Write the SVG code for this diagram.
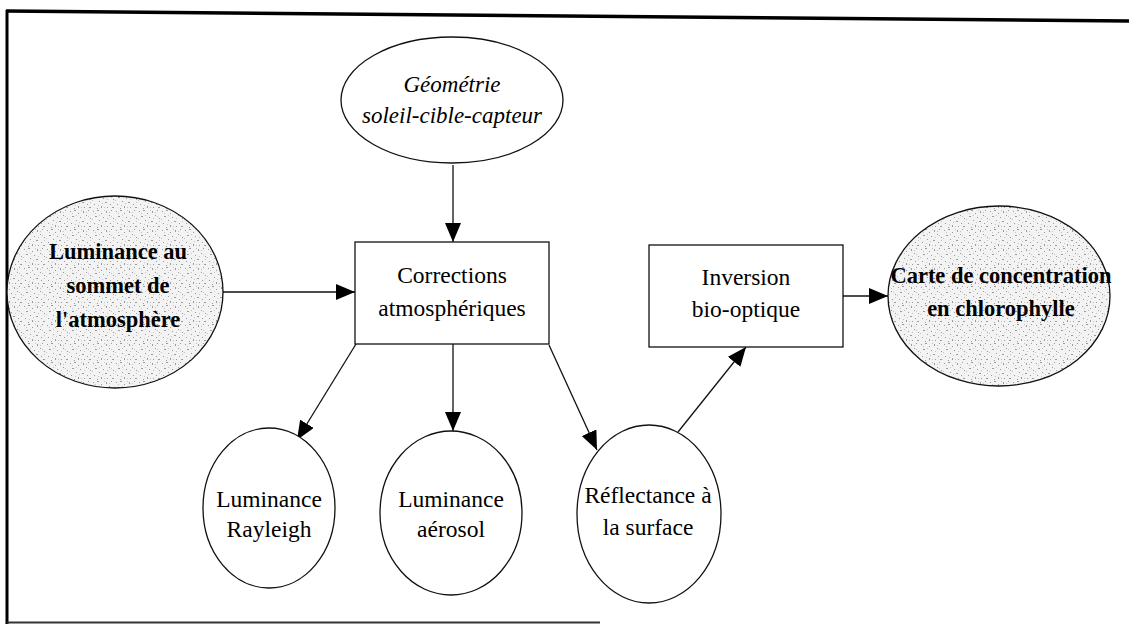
<svg xmlns="http://www.w3.org/2000/svg" width="1129" height="626" viewBox="0 0 1129 626">
<style>
.n{fill:#fff;stroke:#111;stroke-width:1.3}
.s{fill:url(#stip);stroke:#111;stroke-width:1.3}
.t{font-family:"Liberation Serif","Times New Roman",serif;font-size:23.5px;fill:#000;text-anchor:middle}
.b{font-weight:bold;font-size:22.5px}
.i{font-style:italic;font-size:23px}
.c{stroke:#111;stroke-width:1.3;fill:none;marker-end:url(#ah)}
</style>
<defs>
<marker id="ah" markerUnits="userSpaceOnUse" markerWidth="19" markerHeight="16" refX="19" refY="8" orient="auto">
<path d="M0,0 L19,8 L0,16 Z" fill="#000"/>
</marker>
<pattern id="stip" width="23" height="19" patternUnits="userSpaceOnUse">
<rect width="23" height="19" fill="#f3f3f3"/>
<g fill="#9a9a9a">
<rect x="1" y="2" width="1" height="1"/><rect x="5" y="1" width="2" height="1"/><rect x="9" y="4" width="1" height="1"/>
<rect x="14" y="2" width="1" height="2"/><rect x="19" y="1" width="1" height="1"/><rect x="3" y="7" width="2" height="1"/>
<rect x="11" y="8" width="1" height="1"/><rect x="17" y="6" width="1" height="1"/><rect x="21" y="9" width="1" height="1"/>
<rect x="7" y="11" width="1" height="1"/><rect x="13" y="12" width="2" height="1"/><rect x="2" y="14" width="1" height="1"/>
<rect x="18" y="14" width="1" height="1"/><rect x="9" y="16" width="1" height="2"/><rect x="15" y="17" width="1" height="1"/>
<rect x="5" y="18" width="1" height="1"/><rect x="20" y="17" width="2" height="1"/>
</g>
<g fill="#c4c4c4">
<rect x="3" y="4" width="1" height="1"/><rect x="12" y="1" width="1" height="1"/><rect x="7" y="6" width="1" height="1"/>
<rect x="15" y="9" width="1" height="1"/><rect x="0" y="10" width="1" height="1"/><rect x="10" y="13" width="1" height="1"/>
<rect x="21" y="12" width="1" height="1"/><rect x="6" y="15" width="1" height="1"/><rect x="17" y="3" width="1" height="1"/>
<rect x="12" y="17" width="1" height="1"/><rect x="19" y="7" width="1" height="1"/>
</g>
</pattern>
</defs>

<g id="frame" fill="none" stroke="#000">
<path d="M6,11 L1129,21" stroke-width="3.5"/>
<path d="M7,10 L7,624" stroke-width="3"/>
<path d="M7,622.5 L600,622.5" stroke-width="2" stroke="#333"/>
</g>

<g id="connectors">
<path class="c" d="M453,165 L453,242"/>
<path class="c" d="M222,292 L355,292"/>
<path class="c" d="M356,344 L297,440"/>
<path class="c" d="M453,344 L453,431"/>
<path class="c" d="M549,345 L597,450"/>
<path class="c" d="M678,432 L746,347"/>
<path class="c" d="M843,296 L888,296"/>
</g>

<g id="geometrie">
<ellipse class="n" cx="452" cy="100" rx="111" ry="63"/>
<text class="t i" x="452" y="92">Géométrie</text>
<text class="t i" x="452" y="123">soleil-cible-capteur</text>
</g>

<g id="luminance-toa">
<ellipse class="s" cx="115" cy="292" rx="108" ry="96"/>
<text class="t b" x="118" y="259">Luminance au</text>
<text class="t b" x="118" y="293">sommet de</text>
<text class="t b" x="118" y="327">l'atmosphère</text>
</g>

<g id="corrections">
<rect class="n" x="355" y="242" width="194" height="102"/>
<text class="t" x="452" y="283">Corrections</text>
<text class="t" x="452" y="316">atmosphériques</text>
</g>

<g id="inversion">
<rect class="n" x="649" y="245" width="194" height="102"/>
<text class="t" x="746" y="285">Inversion</text>
<text class="t" x="746" y="317">bio-optique</text>
</g>

<g id="carte">
<ellipse class="s" cx="999" cy="296" rx="111" ry="90"/>
<text class="t b" x="1001" y="283">Carte de concentration</text>
<text class="t b" x="1001" y="316">en chlorophylle</text>
</g>

<g id="rayleigh">
<ellipse class="n" cx="269" cy="508" rx="66" ry="80"/>
<text class="t" x="269" y="507">Luminance</text>
<text class="t" x="269" y="537">Rayleigh</text>
</g>

<g id="aerosol">
<ellipse class="n" cx="451" cy="513" rx="71" ry="82"/>
<text class="t" x="451" y="507">Luminance</text>
<text class="t" x="451" y="537">aérosol</text>
</g>

<g id="reflectance">
<ellipse class="n" cx="649" cy="514" rx="72" ry="89"/>
<text class="t" x="648" y="503">Réflectance à</text>
<text class="t" x="648" y="535">la surface</text>
</g>
</svg>
